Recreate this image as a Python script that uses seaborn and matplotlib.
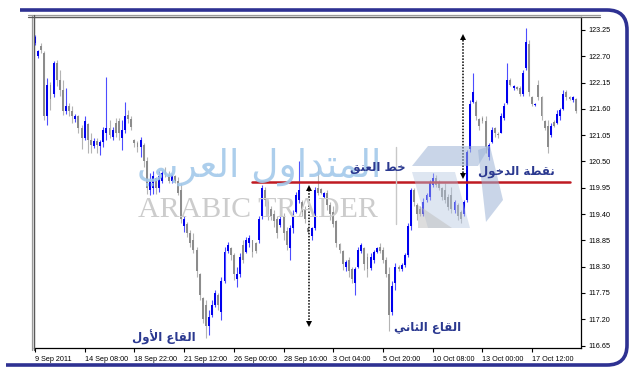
import numpy as np
import pandas as pd
import seaborn as sns
import matplotlib
matplotlib.use("Agg")
import matplotlib.pyplot as plt
from matplotlib.patches import Polygon, PathPatch
from matplotlib.path import Path
from matplotlib.lines import Line2D

# ---------------- data (4H bars) ----------------
opens = [122.98, 122.70, 122.92, 122.76, 121.45, 122.10, 121.90, 122.55, 122.20, 122.00,
         121.55, 121.65, 121.55, 121.38, 121.45, 121.20, 121.00, 121.28, 120.95, 120.82,
         120.92, 120.82, 120.90, 121.10, 121.20, 121.02, 121.30, 121.35, 121.00, 121.15,
         121.48, 121.38, 120.95, 120.88, 120.80, 120.85, 120.50, 119.90, 119.95, 120.15,
         119.95, 120.10, 120.30, 120.22, 120.10, 120.20, 120.10, 119.90, 119.15, 119.20,
         119.00, 118.85, 118.65, 118.15, 117.65, 117.50, 117.05, 117.30, 117.50, 117.70,
         117.35, 118.00, 118.62, 118.70, 118.55, 118.05, 118.15, 118.75, 118.60, 118.80,
         118.85, 118.80, 118.85, 119.35, 119.90, 119.65, 119.50, 119.40, 119.30, 119.18,
         119.35, 119.05, 118.70, 119.10, 119.45, 119.70, 119.65, 119.50, 119.10, 118.95,
         119.10, 119.95, 119.92, 119.76, 119.85, 119.60, 119.45, 119.25, 118.78, 118.62,
         118.30, 118.45, 118.25, 117.95, 118.30, 118.62, 118.70, 118.50, 118.28, 118.45,
         118.60, 118.72, 118.65, 118.45, 118.15, 117.35, 117.95, 118.30, 118.25, 118.33,
         118.55, 119.15, 119.90, 119.60, 119.50, 119.40, 119.70, 119.75, 120.00, 120.15,
         120.05, 119.95, 119.90, 119.75, 119.80, 119.48, 119.60, 119.45, 119.40, 119.70,
         120.75, 121.75, 121.75, 121.38, 121.40, 121.35, 120.60, 120.90, 121.20, 121.05,
         121.10, 121.40, 121.72, 122.20, 122.03, 122.06, 122.03, 121.90, 122.45, 122.95,
         121.85, 121.67, 122.10, 121.85, 121.35, 121.25, 121.05, 121.33, 121.30, 121.45,
         121.60, 121.95, 121.85, 121.78, 121.80]
highs = [123.15, 122.83, 122.98, 122.80, 122.24, 122.17, 122.60, 122.62, 122.41, 122.20,
         122.03, 121.72, 121.66, 121.50, 121.48, 121.26, 121.44, 121.30, 121.09, 120.98,
         120.98, 120.95, 121.22, 122.27, 121.37, 121.22, 121.40, 121.40, 121.37, 121.75,
         121.58, 121.44, 120.97, 120.92, 121.02, 120.88, 120.60, 120.25, 120.29, 120.18,
         120.29, 120.32, 120.39, 120.29, 120.25, 120.22, 120.18, 120.04, 119.35, 119.24,
         119.07, 119.00, 118.72, 118.16, 117.67, 117.60, 117.40, 117.60, 117.81, 117.74,
         118.09, 118.72, 118.82, 118.72, 118.58, 118.30, 118.58, 118.86, 118.93, 118.96,
         118.86, 118.82, 119.35, 120.01, 119.97, 119.70, 119.56, 119.49, 119.35, 119.35,
         119.42, 119.14, 119.17, 119.49, 119.87, 120.50, 119.70, 119.56, 119.14, 119.14,
         119.97, 120.43, 119.94, 119.87, 119.90, 119.66, 119.56, 119.28, 118.79, 118.65,
         118.44, 118.51, 118.30, 118.30, 118.72, 118.79, 118.72, 118.58, 118.58, 118.65,
         118.72, 118.79, 118.72, 118.51, 118.30, 118.00, 118.37, 118.33, 118.37, 118.58,
         119.21, 119.94, 119.94, 119.63, 119.56, 119.73, 119.85, 120.11, 120.25, 120.22,
         120.11, 119.97, 120.04, 119.83, 119.97, 119.70, 119.63, 119.49, 119.70, 120.74,
         121.79, 122.35, 121.79, 121.40, 121.44, 121.44, 120.88, 121.23, 121.23, 121.12,
         121.51, 121.72, 122.55, 122.24, 122.10, 122.07, 122.07, 122.41, 123.28, 123.04,
         121.86, 121.72, 122.20, 121.86, 121.37, 121.37, 121.30, 121.37, 121.58, 121.61,
         122.00, 122.00, 121.86, 121.86, 121.82]
lows = [122.94, 122.66, 122.76, 121.37, 121.26, 121.58, 121.85, 122.07, 121.86, 121.47,
        121.50, 121.44, 121.30, 121.33, 121.09, 120.75, 120.95, 120.67, 120.67, 120.78,
        120.67, 120.64, 120.81, 120.95, 120.98, 120.95, 121.02, 120.95, 120.74, 121.09,
        121.30, 121.16, 120.80, 120.70, 120.60, 120.39, 119.83, 119.80, 119.83, 119.83,
        119.87, 120.04, 120.18, 120.04, 120.04, 120.04, 119.80, 119.21, 119.03, 118.93,
        118.72, 118.58, 118.09, 117.60, 117.12, 116.80, 116.87, 117.25, 117.46, 117.40,
        117.19, 117.95, 118.58, 118.44, 118.02, 117.88, 118.09, 118.37, 118.58, 118.72,
        118.51, 118.58, 118.79, 119.30, 119.56, 119.28, 119.28, 119.14, 118.89, 119.14,
        118.86, 118.65, 118.44, 119.00, 119.42, 119.63, 119.35, 119.21, 119.00, 118.86,
        119.07, 119.80, 119.83, 119.73, 119.49, 119.28, 119.14, 118.72, 118.58, 118.23,
        118.20, 118.09, 117.95, 117.71, 118.28, 118.58, 118.23, 118.09, 118.23, 118.37,
        118.58, 118.58, 118.37, 118.09, 116.95, 117.30, 117.81, 118.20, 118.20, 118.30,
        118.51, 119.07, 119.56, 119.28, 119.35, 119.35, 119.66, 119.70, 119.97, 119.97,
        119.90, 119.70, 119.63, 119.49, 119.42, 119.42, 119.28, 119.21, 119.35, 119.65,
        120.70, 121.72, 121.37, 121.16, 121.30, 120.67, 120.53, 120.88, 121.02, 120.98,
        121.09, 121.37, 121.70, 122.07, 121.99, 121.99, 121.86, 121.86, 122.41, 121.86,
        121.65, 121.65, 121.79, 121.37, 121.16, 120.67, 121.02, 121.23, 121.28, 121.37,
        121.58, 121.79, 121.79, 121.75, 121.51]
closes = [123.10, 122.80, 122.82, 121.45, 122.10, 121.80, 122.55, 122.20, 122.00, 121.55,
          121.65, 121.55, 121.45, 121.45, 121.20, 121.00, 121.35, 120.95, 120.85, 120.92,
          120.85, 120.90, 121.15, 121.20, 121.05, 121.15, 121.10, 121.10, 121.15, 121.45,
          121.38, 121.22, 120.88, 120.80, 120.95, 120.50, 119.95, 120.10, 120.20, 119.95,
          120.20, 120.25, 120.22, 120.10, 120.22, 120.10, 119.85, 119.30, 119.30, 119.00,
          118.80, 118.65, 118.20, 117.70, 117.20, 117.05, 117.25, 117.50, 117.75, 117.50,
          118.00, 118.60, 118.75, 118.55, 118.15, 118.15, 118.50, 118.45, 118.85, 118.90,
          118.60, 118.62, 119.30, 119.95, 119.70, 119.40, 119.35, 119.25, 119.00, 119.30,
          119.00, 118.75, 119.10, 119.40, 119.80, 119.90, 119.45, 119.30, 119.03, 119.10,
          119.90, 119.85, 119.85, 119.85, 119.60, 119.40, 119.20, 118.80, 118.65, 118.35,
          118.40, 118.20, 118.05, 118.25, 118.65, 118.75, 118.35, 118.25, 118.50, 118.60,
          118.70, 118.62, 118.45, 118.15, 117.30, 117.90, 118.30, 118.25, 118.33, 118.55,
          119.15, 119.90, 119.65, 119.40, 119.40, 119.65, 119.80, 120.05, 120.15, 120.00,
          119.95, 119.75, 119.70, 119.55, 119.50, 119.65, 119.35, 119.30, 119.65, 120.70,
          121.70, 121.95, 121.45, 121.25, 121.35, 120.80, 120.85, 121.15, 121.10, 121.05,
          121.45, 121.65, 122.20, 122.10, 122.08, 122.02, 121.90, 122.35, 123.00, 121.95,
          121.70, 121.71, 121.85, 121.45, 121.20, 120.80, 121.25, 121.25, 121.50, 121.58,
          121.90, 121.85, 121.80, 121.84, 121.55]

price_ticks = [116.65, 117.20, 117.75, 118.30, 118.85, 119.40, 119.95,
               120.50, 121.05, 121.60, 122.15, 122.70, 123.25]
time_labels = ["9 Sep 2011", "14 Sep 08:00", "18 Sep 22:00", "21 Sep 12:00",
               "26 Sep 00:00", "28 Sep 16:00", "3 Oct 04:00", "5 Oct 20:00",
               "10 Oct 08:00", "13 Oct 00:00", "17 Oct 12:00"]
bars_per_label = 16

neckline = 120.08
neck_span = (70, 172)
depth_arrow = dict(bar=88.3, low=117.02, high=120.03)
target_arrow = dict(bar=137.8, low=120.10, high=123.20)

# Arabic labels (presentation forms, visual order)
lbl_first_bottom = "\uFEDD\uFEED\uFEF7\uFE8D \uFEC9\uFE8E\uFED8\uFEDF\uFE8D"          # القاع الأول
lbl_second_bottom = "\uFEF2\uFEE7\uFE8E\uFE9C\uFEDF\uFE8D \uFEC9\uFE8E\uFED8\uFEDF\uFE8D"  # القاع الثاني
lbl_neck = "\uFED6\uFEE8\uFECC\uFEDF\uFE8D \uFEC2\uFEA7"                                # خط العنق
lbl_entry = "\uFEDD\uFEEE\uFEA7\uFEAA\uFEDF\uFE8D \uFE94\uFEC4\uFED8\uFEE7"             # نقطة الدخول
wm_arabic = "\uFEF2\uFE91\uFEAE\uFECC\uFEDF\uFE8D \uFEDD\uFEED\uFE8D\uFEAA\uFE98\uFEE4\uFEDF\uFE8D"  # المتداول العربي
wm_latin = "ARABIC TRADER"

# ---------------- figure ----------------
sns.set_theme(style="white")
plt.rcParams['font.family'] = ['Liberation Sans', 'DejaVu Sans']

W, H = 643, 378
fig = plt.figure(figsize=(W / 100, H / 100), dpi=100, facecolor="white")


def fx(x):
    return x / W


def fy(y):
    return 1 - y / H


ax = fig.add_axes([fx(34), fy(348), (581 - 34) / W, (348 - 17) / H])
ax.set_facecolor("white")

df = pd.DataFrame(dict(o=opens, h=highs, l=lows, c=closes))
df["i"] = np.arange(len(df))
df["up"] = df["c"] > df["o"]
df["body_lo"] = df[["o", "c"]].min(axis=1)
df["body_h"] = (df["c"] - df["o"]).abs().clip(lower=0.02)

up = df[df["up"]]
dn = df[~df["up"]]
ax.vlines(up["i"], up["l"], up["h"], color="#4d4dff", lw=0.8, zorder=3)
ax.vlines(dn["i"], dn["l"], dn["h"], color="#b4b4b4", lw=0.8, zorder=3)
ax.bar(up["i"], up["body_h"], bottom=up["body_lo"], width=0.62, color="#0000ee", lw=0, zorder=4)
ax.bar(dn["i"], dn["body_h"], bottom=dn["body_lo"], width=0.62, color="#8c8c8c", lw=0, zorder=4)

ax.set_xlim(-0.3, 175.7)
ax.set_ylim(116.60, 123.52)

ax.yaxis.tick_right()
ax.set_yticks(price_ticks)
ax.set_yticklabels([f"{v:.2f}" for v in price_ticks])
ax.set_xticks([k * bars_per_label for k in range(len(time_labels))])
ax.set_xticklabels(time_labels, ha="left")
ax.tick_params(axis="both", which="both", direction="out", length=3, width=0.8,
               labelsize=5.2, colors="black", pad=2)
ax.tick_params(axis="x", pad=2.5)
ax.tick_params(axis="y", right=True, left=False, labelright=True, labelleft=False)
ax.tick_params(axis="x", bottom=True)
for s in ["right", "bottom"]:
    ax.spines[s].set_color("black")
    ax.spines[s].set_linewidth(0.9)
for s in ["left", "top"]:
    ax.spines[s].set_color("#7a7a7a")
    ax.spines[s].set_linewidth(0.9)
ax.grid(False)

# neckline
ax.plot(neck_span, [neckline, neckline], color="#bf1a22", lw=1.8, zorder=6)

# dotted double-headed arrows
for arr in (depth_arrow, target_arrow):
    ax.plot([arr["bar"], arr["bar"]], [arr["low"] + 0.1, arr["high"] - 0.1],
            color="black", lw=1.1, ls=(0, (1, 1)), zorder=7)
    ax.plot(arr["bar"], arr["high"] - 0.09, marker="^", ms=5, color="black", zorder=7, mew=0)
    ax.plot(arr["bar"], arr["low"] + 0.09, marker="v", ms=5, color="black", zorder=7, mew=0)

# watermark (figure pixel coordinates)
ar_font = ['DejaVu Sans']
fig.text(fx(259), fy(167), wm_arabic, color="#a3c9ea", fontsize=27, family=ar_font,
         ha="center", va="center", alpha=0.9, zorder=1)
fig.text(fx(258), fy(210), wm_latin, color="#cccccc", fontsize=21.5, family=["Liberation Serif"],
         ha="center", va="center", zorder=1)
fig.add_artist(Line2D([fx(396), fx(396)], [fy(147), fy(224)], color="#c8c8c8", lw=1,
                      transform=fig.transFigure, zorder=1))


def poly(pts, color, alpha):
    p = Polygon([(fx(a), fy(b)) for a, b in pts], closed=True, transform=fig.transFigure,
                facecolor=color, edgecolor="none", alpha=alpha, zorder=1)
    fig.add_artist(p)


poly([(428, 146), (490, 146), (478, 166), (412, 166)], "#9db4d6", 0.55)
poly([(478, 150), (490, 146), (503, 200), (486, 222)], "#9db4d6", 0.55)
poly([(412, 172), (455, 172), (470, 228), (428, 228)], "#b7c8e2", 0.45)
poly([(418, 205), (452, 228), (418, 228)], "#bdbdbd", 0.5)

# labels
navy = "#2b3990"
fig.text(fx(164), fy(337), lbl_first_bottom, color=navy, fontsize=8.5, fontweight="bold",
         family=ar_font, ha="center", va="center")
fig.text(fx(428), fy(328), lbl_second_bottom, color=navy, fontsize=8.5, fontweight="bold",
         family=ar_font, ha="center", va="center")
fig.text(fx(378), fy(167), lbl_neck, color=navy, fontsize=8.5, fontweight="bold",
         family=ar_font, ha="center", va="center")
fig.text(fx(516), fy(172), lbl_entry, color=navy, fontsize=8.5, fontweight="bold",
         family=ar_font, ha="center", va="center")

# window frame (gray double lines)
for off, col in ((0, "#9a9a9a"), (2.2, "#5a5a5a")):
    fig.add_artist(Line2D([fx(28), fx(600)], [fy(14.5 + off), fy(14.5 + off)], color=col, lw=0.9,
                          transform=fig.transFigure))
    fig.add_artist(Line2D([fx(31.5 + off), fx(31.5 + off)], [fy(14.5), fy(350)], color=col, lw=0.9,
                          transform=fig.transFigure))

# outer navy rounded frame
verts = [(20, 10), (607, 10), (627, 10), (627, 30), (627, 345), (627, 365), (607, 365), (6, 365)]
codes = [Path.MOVETO, Path.LINETO, Path.CURVE3, Path.CURVE3, Path.LINETO, Path.CURVE3, Path.CURVE3,
         Path.LINETO]
frame = PathPatch(Path([(fx(a), fy(b)) for a, b in verts], codes), transform=fig.transFigure,
                  facecolor="none", edgecolor="#2e3192", lw=2.6, zorder=10)
fig.add_artist(frame)

fig.savefig("out.png", dpi=100, facecolor="white")
